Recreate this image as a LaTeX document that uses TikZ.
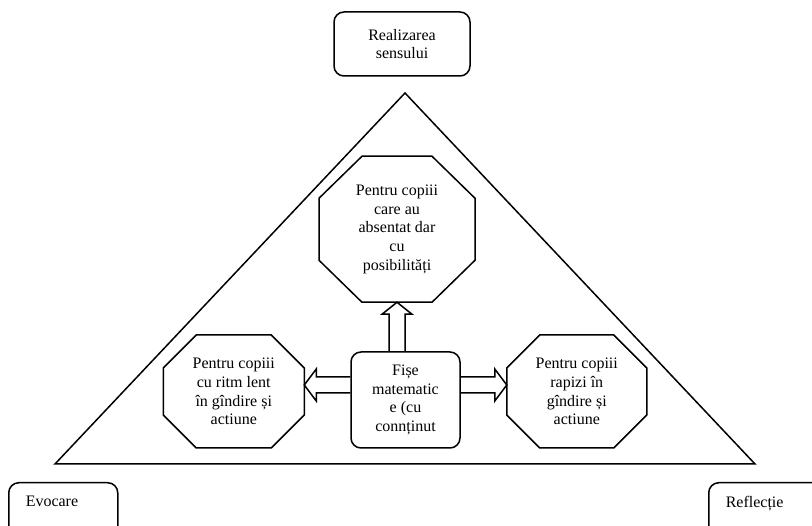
\documentclass[tikz,border=0pt]{standalone}
\usepackage{fontspec}
\setmainfont{Liberation Serif}
\usetikzlibrary{positioning}
\tikzstyle{line} = [line width=1.5pt, line join=miter]
\tikzstyle{roundbox} = [rectangle, rounded corners=10pt, draw=black, line width=1.5pt, align=center, inner sep=2pt, font=\fontsize{16pt}{18.7pt}\selectfont]
\tikzstyle{cornerbox} = [rectangle, rounded corners=10pt, draw=black, line width=1.5pt, align=left, anchor=north west, inner xsep=17pt, inner ysep=13pt, text depth=40pt, font=\fontsize{16pt}{18.7pt}\selectfont]
\tikzstyle{octbox} = [rectangle, draw=none, inner sep=0pt, outer sep=0pt, align=center, font=\fontsize{16pt}{18.7pt}\selectfont]
\tikzstyle{fatarrow} = [line width=1.5pt, line join=miter]
% octagon round a node: name, cut x, cut y
\newcommand{\octagon}[3]{\draw[line] ([xshift=#2]#1.north west) -- ([xshift=-#2]#1.north east) -- ([yshift=-#3]#1.north east) -- ([yshift=#3]#1.south east) -- ([xshift=-#2]#1.south east) -- ([xshift=#2]#1.south west) -- ([yshift=#3]#1.south west) -- ([yshift=-#3]#1.north west) -- cycle;}
\begin{document}
\begin{tikzpicture}[x=1pt, y=-1pt]
	\useasboundingbox (0,0) rectangle (812,526);
	\clip (0,0) rectangle (812,526);
	% triangle
	\coordinate (apex) at (405,93);
	\coordinate (bl) at (55,464);
	\coordinate (br) at (755,464);
	\draw[line] (apex) -- (br) -- (bl) -- cycle;
	% boxes
	\node (sens) [roundbox, minimum width=136pt, minimum height=64pt] at (402,44) {Realizarea\\sensului};
	\node (fise) [roundbox, minimum width=109pt, minimum height=96pt] at (405.5,400) {Fișe\\matematic\\e (cu\\connținut};
	\node (abs) [octbox, minimum width=156pt, minimum height=146pt, above=49pt of fise, xshift=-8.5pt] {Pentru copiii\\care au\\absentat dar\\cu\\posibilități};
	\node (lent) [octbox, minimum width=141pt, minimum height=113pt, left=46pt of fise, yshift=8.5pt] {Pentru copiii\\cu ritm lent\\în gîndire și\\actiune};
	\node (rapid) [octbox, minimum width=140pt, minimum height=113pt, right=46pt of fise, yshift=8.5pt] {Pentru copiii\\rapizi în\\gîndire și\\actiune};
	\octagon{abs}{43pt}{42pt}
	\octagon{lent}{33pt}{33pt}
	\octagon{rapid}{33pt}{33pt}
	\node (evoc) [cornerbox, text width=75pt] at (8,482) {Evocare};
	\node (refl) [cornerbox, text width=100pt] at (708,482) {Reflecție};
	% arrows
	\coordinate (upl) at ([xshift=-8pt]abs.south);
	\coordinate (upr) at ([xshift=8pt]abs.south);
	\draw[fatarrow] (upl |- fise.north) -- ([yshift=-12pt]upl) -- ([xshift=-15pt,yshift=-12pt]abs.south) -- (abs.south) -- ([xshift=15pt,yshift=-12pt]abs.south) -- ([yshift=-12pt]upr) -- (upr |- fise.north);
	\coordinate (axl) at ([yshift=15pt]fise.west);
	\coordinate (tipl) at (lent.east |- axl);
	\draw[fatarrow] ([yshift=8pt]axl) -- ([xshift=12pt,yshift=8pt]tipl) -- ([xshift=12pt,yshift=16pt]tipl) -- (tipl) -- ([xshift=12pt,yshift=-16pt]tipl) -- ([xshift=12pt,yshift=-8pt]tipl) -- ([yshift=-8pt]axl);
	\coordinate (axr) at ([yshift=15pt]fise.east);
	\coordinate (tipr) at (rapid.west |- axr);
	\draw[fatarrow] ([yshift=8pt]axr) -- ([xshift=-12pt,yshift=8pt]tipr) -- ([xshift=-12pt,yshift=16pt]tipr) -- (tipr) -- ([xshift=-12pt,yshift=-16pt]tipr) -- ([xshift=-12pt,yshift=-8pt]tipr) -- ([yshift=-8pt]axr);
\end{tikzpicture}
\end{document}
